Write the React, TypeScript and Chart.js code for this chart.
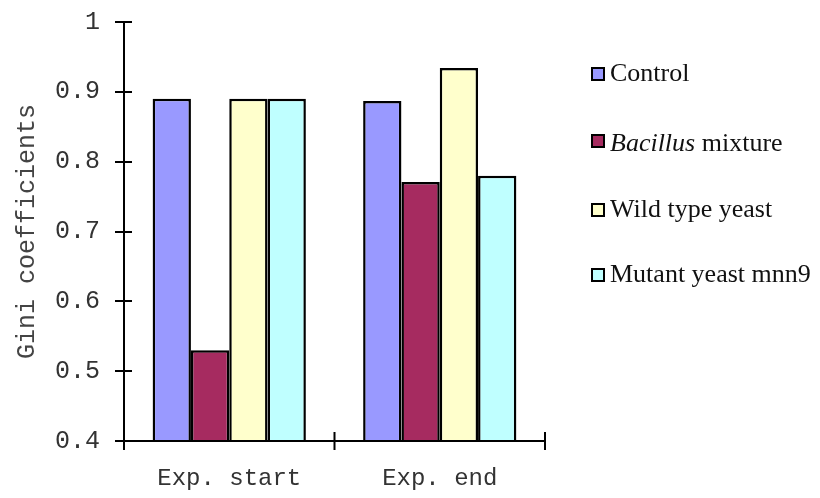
import React, { useEffect, useRef } from "react";
import { Chart, registerables } from "chart.js";

Chart.register(...registerables);

const categories = ["Exp. start", "Exp. end"];
const seriesNames = ["Control", "Bacillus mixture", "Wild type yeast", "Mutant yeast mnn9"];
const controlValues = [0.89, 0.887];
const bacillusValues = [0.53, 0.771];
const wildTypeValues = [0.89, 0.934];
const mutantValues = [0.89, 0.78];
const seriesColors = ["#9999FF", "#A62B60", "#FFFFCC", "#BFFFFF"];
const yMin = 0.4;
const yMax = 1;
const yStep = 0.1;

const axisFont = "'Liberation Mono', 'DejaVu Sans Mono', monospace";
const legendFont = "'Liberation Serif', 'DejaVu Serif', serif";

const axesPlugin = {
  id: "customAxes",
  afterDatasetsDraw(chart: any) {
    const { ctx } = chart;
    const xs = chart.scales.x;
    const ys = chart.scales.y;
    const left = xs.left;
    const right = xs.right;
    const bottom = ys.bottom;
    const top = ys.top;
    ctx.save();
    ctx.strokeStyle = "#000";
    ctx.lineWidth = 2;
    ctx.beginPath();
    ctx.moveTo(left, top);
    ctx.lineTo(left, bottom);
    ctx.moveTo(left, bottom);
    ctx.lineTo(right, bottom);
    for (let v = yMin; v <= yMax + 1e-9; v += yStep) {
      const y = Math.round(ys.getPixelForValue(v));
      ctx.moveTo(left - 9, y);
      ctx.lineTo(left + 8, y);
    }
    const n = categories.length;
    for (let i = 0; i <= n; i++) {
      const x = left + ((right - left) * i) / n;
      ctx.moveTo(x, bottom - 9);
      ctx.lineTo(x, bottom + 9);
    }
    ctx.stroke();
    ctx.restore();
  },
  afterDraw(chart: any) {
    const { ctx } = chart;
    const rows = [74, 144, 210, 275];
    const boxX = 592;
    const textX = 610;
    ctx.save();
    ctx.textBaseline = "middle";
    chart.data.datasets.forEach((ds: any, i: number) => {
      const y = rows[i];
      const by = i === 1 ? y - 3 : y;
      ctx.fillStyle = ds.backgroundColor;
      ctx.fillRect(boxX, by - 6, 12, 12);
      ctx.strokeStyle = "#000";
      ctx.lineWidth = 2;
      ctx.strokeRect(boxX, by - 6, 12, 12);
      ctx.fillStyle = "#111";
      if (i === 1) {
        ctx.font = `italic 26px ${legendFont}`;
        const w = ctx.measureText("Bacillus").width;
        ctx.fillText("Bacillus", textX, y);
        ctx.font = `26px ${legendFont}`;
        ctx.fillText(" mixture", textX + w, y);
      } else {
        ctx.font = `26px ${legendFont}`;
        ctx.fillText(ds.label, textX, y);
      }
    });
    ctx.restore();
  },
};

export default function App() {
  const ref = useRef<HTMLCanvasElement | null>(null);
  useEffect(() => {
    document.body.style.margin = "0";
    if (!ref.current) return;
    const values = [controlValues, bacillusValues, wildTypeValues, mutantValues];
    const chart = new Chart(ref.current, {
      type: "bar",
      data: {
        labels: categories,
        datasets: seriesNames.map((name, i) => ({
          label: name,
          data: values[i],
          backgroundColor: seriesColors[i],
          borderColor: "#000",
          borderWidth: 2.5,
          borderSkipped: false,
          categoryPercentage: 0.728,
          barPercentage: 1,
        })),
      },
      options: {
        responsive: false,
        animation: false,
        devicePixelRatio: 1,
        layout: { padding: { left: 0, top: 22, right: 275, bottom: 0 } },
        plugins: {
          legend: { display: false },
          tooltip: { enabled: false },
        },
        scales: {
          x: {
            grid: { display: false, drawTicks: false },
            border: { display: false },
            ticks: {
              color: "#333",
              font: { family: axisFont, size: 24 },
              padding: 23,
            },
            afterFit: (s: any) => {
              s.height = 57;
              s.paddingLeft = 0;
              s.paddingRight = 0;
            },
          },
          y: {
            min: yMin,
            max: yMax,
            grid: { display: false, drawTicks: false },
            border: { display: false },
            ticks: {
              stepSize: yStep,
              color: "#333",
              font: { family: axisFont, size: 25 },
              padding: 24,
              callback: (v: any) => {
                const n = Number(v);
                return Math.abs(n - 1) < 1e-9 ? "1" : n.toFixed(1);
              },
            },
            title: {
              display: true,
              text: "Gini coefficients",
              color: "#444",
              font: { family: axisFont, size: 25 },
              padding: { top: 12, bottom: 0 },
            },
            afterFit: (s: any) => {
              s.width = 124;
              s.paddingTop = 0;
              s.paddingBottom = 0;
            },
          },
        },
      },
      plugins: [axesPlugin],
    });
    return () => chart.destroy();
  }, []);
  return (
    <div style={{ width: 820, height: 498, background: "#fff" }}>
      <canvas ref={ref} width={820} height={498} />
    </div>
  );
}
